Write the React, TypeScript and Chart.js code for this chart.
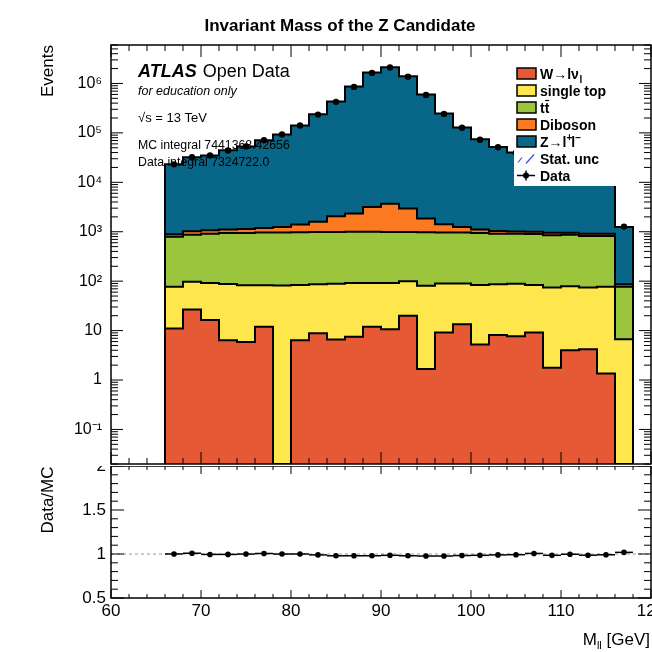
import React, { useEffect, useRef } from "react";
import { Chart, registerables } from "chart.js";

Chart.register(...registerables);

const FONT = "'Liberation Sans', Arial, Helvetica, sans-serif";

// ---------------- data ----------------
const binEdges = [66, 68, 70, 72, 74, 76, 78, 80, 82, 84, 86, 88, 90, 92, 94, 96, 98, 100, 102, 104, 106, 108, 110, 112, 114, 116, 118];
const binCenters = [67, 69, 71, 73, 75, 77, 79, 81, 83, 85, 87, 89, 91, 93, 95, 97, 99, 101, 103, 105, 107, 109, 111, 113, 115, 117];

const wlnu = [11, 26.8, 16.3, 6.4, 5.9, 11.9, 0, 6.4, 8.8, 6.6, 7.5, 11.9, 10.6, 20, 1.67, 9.2, 13.5, 5.25, 8.1, 7.7, 9.2, 1.77, 4.0, 4.2, 1.36, 0];
const singleTop = [66, 70, 76, 81, 77, 71, 82, 77, 78, 82, 84, 80, 81, 80, 79, 80, 76, 78, 79, 81, 74, 73, 75, 70, 76, 6.7];
const ttbar = [715, 773, 818, 859, 863, 877, 878, 897, 898, 901, 903, 908, 898, 890, 899, 881, 871, 863, 823, 821, 817, 775, 791, 746, 743, 70];
const diboson = [98, 150, 160, 164, 194, 230, 290, 420, 605, 1060, 1335, 2170, 2710, 1980, 870, 450, 290, 164, 130, 100, 100, 105, 85, 90, 90, 10];
const zll = [22200, 31000, 33900, 43200, 52200, 69500, 91800, 139600, 235400, 431000, 867700, 1666800, 2136300, 1397000, 598200, 246600, 127800, 72900, 50600, 39000, 30000, 23000, 18000, 14600, 11600, 1160];
const dataCounts = [23100, 32300, 34800, 44100, 53300, 71100, 93000, 141000, 234600, 424300, 852600, 1636600, 2107900, 1372000, 586200, 242300, 126800, 72900, 51100, 39700, 31200, 23600, 18900, 15300, 12400, 1270];

const seriesNames = ["W→lν", "single top", "tt", "Diboson", "Z→l"];
const seriesColors = ["#e55934", "#fde74c", "#9bc53d", "#fa7921", "#086788"];

const logTickValues = [0.1, 1, 10, 100, 1e3, 1e4, 1e5, 1e6];
const logTickLabels = ["10⁻¹", "1", "10", "10²", "10³", "10⁴", "10⁵", "10⁶"];
const ratioTickValues = [0.5, 1, 1.5, 2];
const xTickValues = [60, 70, 80, 90, 100, 110, 120];

const Y_MIN = 0.02;
const Y_MAX = 6e6;
const X_MIN = 60;
const X_MAX = 120;

// ---------------- derived tables ----------------
const components = [wlnu, singleTop, ttbar, diboson, zll];
const cumulative: number[][] = [];
components.reduce((acc, comp) => {
  const next = acc.map((v, i) => v + comp[i]);
  cumulative.push(next);
  return next;
}, binCenters.map(() => 0));
const mcTotal = cumulative[cumulative.length - 1];
const ratio = dataCounts.map((d, i) => d / mcTotal[i]);

function stepLine(vals: number[]) {
  const n = vals.length;
  const lift = (v: number) => (v > Y_MIN ? v : Y_MIN);
  const pts = [{ x: binEdges[0], y: Y_MIN }];
  for (let i = 0; i < n; i++) pts.push({ x: binEdges[i], y: lift(vals[i]) });
  pts.push({ x: binEdges[n], y: lift(vals[n - 1]) });
  pts.push({ x: binEdges[n], y: Y_MIN });
  return pts;
}

function line(ctx: CanvasRenderingContext2D, x1: number, y1: number, x2: number, y2: number) {
  ctx.beginPath();
  ctx.moveTo(x1, y1);
  ctx.lineTo(x2, y2);
  ctx.stroke();
}

function zeroPad(s: any) {
  s.paddingTop = 0;
  s.paddingBottom = 0;
  s.paddingLeft = 0;
  s.paddingRight = 0;
}

// ---------------- plugins ----------------
const whiteBg = {
  id: "whiteBg",
  beforeDraw(chart: any) {
    const { ctx, width, height } = chart;
    ctx.save();
    ctx.fillStyle = "#fff";
    ctx.fillRect(0, 0, width, height);
    ctx.restore();
  },
};

const topFrame = {
  id: "topFrame",
  afterDatasetsDraw(chart: any) {
    const { ctx, chartArea: a, scales } = chart;
    const x = scales.x;
    const y = scales.y;
    ctx.save();
    ctx.strokeStyle = "#000";
    ctx.lineWidth = 1;
    for (let v = X_MIN; v <= X_MAX; v += 2) {
      const px = x.getPixelForValue(v);
      const L = v % 10 === 0 ? 12 : 6;
      line(ctx, px, a.bottom, px, a.bottom - L);
      line(ctx, px, a.top, px, a.top + L);
    }
    for (let k = -2; k <= 6; k++) {
      for (let m = 1; m <= 9; m++) {
        const v = m * Math.pow(10, k);
        if (v < Y_MIN || v > Y_MAX) continue;
        const py = y.getPixelForValue(v);
        const L = m === 1 ? 12 : 7;
        line(ctx, a.left, py, a.left + L, py);
        line(ctx, a.right, py, a.right - L, py);
      }
    }
    ctx.lineWidth = 1.5;
    ctx.strokeRect(a.left, a.top, a.right - a.left, a.bottom - a.top);
    ctx.restore();
  },
};

const topTexts = {
  id: "topTexts",
  afterDraw(chart: any) {
    const { ctx } = chart;
    ctx.save();
    ctx.fillStyle = "#000";
    ctx.textBaseline = "alphabetic";

    // title
    ctx.font = `bold 17px ${FONT}`;
    ctx.textAlign = "center";
    ctx.fillText("Invariant Mass of the Z Candidate", 340, 31);

    // y title
    ctx.save();
    ctx.translate(53, 45);
    ctx.rotate(-Math.PI / 2);
    ctx.font = `17px ${FONT}`;
    ctx.textAlign = "right";
    ctx.fillText("Events", 0, 0);
    ctx.restore();

    ctx.textAlign = "left";
    // ATLAS label
    ctx.font = `italic bold 18px ${FONT}`;
    ctx.fillText("ATLAS", 138, 77);
    const wA = ctx.measureText("ATLAS").width;
    ctx.font = `18px ${FONT}`;
    ctx.fillText("Open Data", 138 + wA + 6, 77);
    ctx.font = `italic 12.5px ${FONT}`;
    ctx.fillText("for education only", 138, 95);
    ctx.font = `13px ${FONT}`;
    ctx.fillText("√s = 13 TeV", 138, 122);
    ctx.font = `12.3px ${FONT}`;
    ctx.fillText("MC integral 7441368.42656", 138, 148.5);
    ctx.fillText("Data integral 7324722.0", 138, 166);

    // legend
    ctx.fillStyle = "#fff";
    ctx.fillRect(514, 60, 120, 126);
    const x0 = 517;
    const tx = 540;
    const y0 = 73.5;
    const dy = 17;
    for (let k = 0; k < 5; k++) {
      const cy = y0 + dy * k;
      ctx.fillStyle = seriesColors[k];
      ctx.fillRect(x0, cy - 5.5, 19, 11);
      ctx.strokeStyle = "#000";
      ctx.lineWidth = 1.5;
      ctx.strokeRect(x0, cy - 5.5, 19, 11);
    }
    ctx.fillStyle = "#000";
    const bold = `bold 14px ${FONT}`;
    const small = `bold 10px ${FONT}`;
    const base = (k: number) => y0 + dy * k + 5;
    // W -> l nu_l
    ctx.font = bold;
    ctx.fillText(seriesNames[0], tx, base(0));
    let w = ctx.measureText(seriesNames[0]).width;
    ctx.font = small;
    ctx.fillText("l", tx + w + 0.5, base(0) + 4);
    // single top
    ctx.font = bold;
    ctx.fillText(seriesNames[1], tx, base(1));
    // ttbar
    ctx.fillText(seriesNames[2], tx, base(2));
    const wt = ctx.measureText("t").width;
    ctx.strokeStyle = "#000";
    ctx.lineWidth = 1.2;
    line(ctx, tx + wt + 0.5, base(2) - 12, tx + 2 * wt - 0.2, base(2) - 12);
    // Diboson
    ctx.fillText(seriesNames[3], tx, base(3));
    // Z -> l+ l-
    ctx.fillText(seriesNames[4], tx, base(4));
    w = ctx.measureText(seriesNames[4]).width;
    ctx.font = small;
    ctx.fillText("+", tx + w, base(4) - 6);
    const wp = ctx.measureText("+").width;
    ctx.font = bold;
    ctx.fillText("l", tx + w + wp - 1, base(4));
    const wl = ctx.measureText("l").width;
    ctx.font = small;
    ctx.fillText("−", tx + w + wp + wl - 1, base(4) - 6);
    // Stat. unc
    ctx.font = bold;
    ctx.fillText("Stat. unc", tx, base(5));
    ctx.strokeStyle = "#3a4fd8";
    ctx.lineWidth = 1.2;
    const sy = y0 + dy * 5;
    line(ctx, x0 + 1, sy + 4, x0 + 5, sy - 1);
    line(ctx, x0 + 9, sy + 5, x0 + 17, sy - 4);
    // Data
    ctx.fillText("Data", tx, base(6));
    const dyy = y0 + dy * 6;
    ctx.strokeStyle = "#000";
    ctx.lineWidth = 1.5;
    line(ctx, x0, dyy, x0 + 18, dyy);
    line(ctx, x0 + 9, dyy - 5, x0 + 9, dyy + 5);
    ctx.beginPath();
    ctx.arc(x0 + 9, dyy, 3, 0, Math.PI * 2);
    ctx.fill();

    ctx.restore();
  },
};

const ratioDecor = {
  id: "ratioDecor",
  afterDatasetsDraw(chart: any) {
    const { ctx, chartArea: a, scales } = chart;
    const x = scales.x;
    const y = scales.y;
    ctx.save();
    // horizontal bin-width bars for the ratio points
    ctx.strokeStyle = "#000";
    ctx.lineWidth = 1.5;
    binCenters.forEach((c, i) => {
      const py = y.getPixelForValue(ratio[i]);
      line(ctx, x.getPixelForValue(c - 1), py, x.getPixelForValue(c + 1), py);
    });
    // ticks
    ctx.lineWidth = 1;
    for (let v = X_MIN; v <= X_MAX; v += 2) {
      const px = x.getPixelForValue(v);
      const L = v % 10 === 0 ? 8 : 4;
      line(ctx, px, a.bottom, px, a.bottom - L);
      line(ctx, px, a.top, px, a.top + L);
    }
    for (let i = 5; i <= 20; i++) {
      const py = y.getPixelForValue(i / 10);
      const L = i % 5 === 0 ? 13 : 7;
      line(ctx, a.left, py, a.left + L, py);
      line(ctx, a.right, py, a.right - L, py);
    }
    ctx.lineWidth = 1.5;
    ctx.strokeRect(a.left, a.top, a.right - a.left, a.bottom - a.top);
    ctx.restore();
  },
  afterDraw(chart: any) {
    const { ctx } = chart;
    ctx.save();
    ctx.fillStyle = "#000";
    // y title
    ctx.save();
    ctx.translate(53, 60);
    ctx.rotate(-Math.PI / 2);
    ctx.font = `17px ${FONT}`;
    ctx.textAlign = "center";
    ctx.fillText("Data/MC", 0, 0);
    ctx.restore();
    // x title M_ll [GeV]
    const big = `17px ${FONT}`;
    const sm = `11px ${FONT}`;
    ctx.font = big;
    const w1 = ctx.measureText("M").width;
    const w3 = ctx.measureText(" [GeV]").width;
    ctx.font = sm;
    const w2 = ctx.measureText("ll").width;
    const baseY = 205;
    let xs = 650 - (w1 + w2 + w3);
    ctx.textAlign = "left";
    ctx.font = big;
    ctx.fillText("M", xs, baseY);
    xs += w1;
    ctx.font = sm;
    ctx.fillText("ll", xs, baseY + 4);
    xs += w2;
    ctx.font = big;
    ctx.fillText(" [GeV]", xs, baseY);
    ctx.restore();
  },
};

// ---------------- component ----------------
export default function App() {
  const topRef = useRef<HTMLCanvasElement>(null);
  const botRef = useRef<HTMLCanvasElement>(null);

  useEffect(() => {
    const stackSets = cumulative.map((c, k) => ({
      type: "line",
      label: seriesNames[k],
      data: stepLine(c),
      stepped: "before",
      fill: "start",
      backgroundColor: seriesColors[k],
      borderColor: "#000",
      borderWidth: 2,
      pointRadius: 0,
      order: k + 1,
    }));

    const top = new Chart(topRef.current as HTMLCanvasElement, {
      type: "line",
      data: {
        datasets: [
          {
            type: "line",
            label: "Data",
            data: binCenters.map((x, i) => ({ x, y: dataCounts[i] })),
            showLine: false,
            pointRadius: 3.2,
            pointBackgroundColor: "#000",
            pointBorderColor: "#000",
            pointBorderWidth: 0,
            order: 0,
          },
          ...stackSets,
        ] as any,
      },
      options: {
        responsive: false,
        animation: false,
        events: [],
        layout: { autoPadding: false, padding: { left: 0, top: 45, right: 1, bottom: 2 } },
        plugins: { legend: { display: false }, tooltip: { enabled: false } },
        scales: {
          x: { type: "linear", min: X_MIN, max: X_MAX, display: false, afterFit: zeroPad },
          y: {
            type: "logarithmic",
            min: Y_MIN,
            max: Y_MAX,
            grid: { display: false, drawTicks: false },
            border: { display: false },
            afterBuildTicks: (s: any) => {
              s.ticks = logTickValues.map((v) => ({ value: v }));
            },
            ticks: {
              autoSkip: false,
              padding: 9,
              color: "#000",
              font: { family: FONT, size: 16 },
              callback: (_v: any, i: number) => logTickLabels[i],
            },
            afterFit: (s: any) => {
              s.width = 111;
              zeroPad(s);
            },
          },
        },
      } as any,
      plugins: [whiteBg, topFrame, topTexts],
    });

    const bot = new Chart(botRef.current as HTMLCanvasElement, {
      type: "line",
      data: {
        datasets: [
          {
            label: "Data/MC",
            data: binCenters.map((x, i) => ({ x, y: ratio[i] })),
            showLine: false,
            pointRadius: 2.8,
            pointBackgroundColor: "#000",
            pointBorderColor: "#000",
            pointBorderWidth: 0,
            order: 0,
          },
          {
            label: "unity",
            data: [
              { x: X_MIN, y: 1 },
              { x: X_MAX, y: 1 },
            ],
            borderColor: "#999",
            borderWidth: 1,
            borderDash: [3, 3],
            pointRadius: 0,
            fill: false,
            order: 1,
          },
        ] as any,
      },
      options: {
        responsive: false,
        animation: false,
        events: [],
        layout: { autoPadding: false, padding: { left: 0, top: 26, right: 1, bottom: 0 } },
        plugins: { legend: { display: false }, tooltip: { enabled: false } },
        scales: {
          x: {
            type: "linear",
            min: X_MIN,
            max: X_MAX,
            grid: { display: false, drawTicks: false },
            border: { display: false },
            afterBuildTicks: (s: any) => {
              s.ticks = xTickValues.map((v) => ({ value: v }));
            },
            ticks: {
              autoSkip: false,
              maxRotation: 0,
              padding: 3,
              color: "#000",
              font: { family: FONT, size: 17 },
              callback: (v: any) => String(v),
            },
            afterFit: (s: any) => {
              s.height = 54;
              zeroPad(s);
            },
          },
          y: {
            type: "linear",
            min: 0.5,
            max: 2,
            grid: { display: false, drawTicks: false },
            border: { display: false },
            afterBuildTicks: (s: any) => {
              s.ticks = ratioTickValues.map((v) => ({ value: v }));
            },
            ticks: {
              autoSkip: false,
              padding: 5,
              color: "#000",
              font: { family: FONT, size: 17 },
              callback: (v: any) => String(v),
            },
            afterFit: (s: any) => {
              s.width = 111;
              zeroPad(s);
            },
          },
        },
      } as any,
      plugins: [ratioDecor],
    });

    return () => {
      top.destroy();
      bot.destroy();
    };
  }, []);

  return (
    <div style={{ position: "absolute", left: 0, top: 0, width: 652, height: 652, background: "#fff", overflow: "hidden" }}>
      <canvas
        ref={botRef}
        width={652}
        height={212}
        style={{ position: "absolute", left: 0, top: 440, width: 652, height: 212 }}
      />
      <canvas
        ref={topRef}
        width={652}
        height={466}
        style={{ position: "absolute", left: 0, top: 0, width: 652, height: 466, zIndex: 1 }}
      />
    </div>
  );
}
